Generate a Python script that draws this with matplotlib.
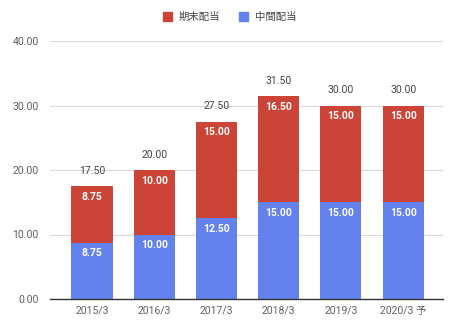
import matplotlib
matplotlib.use("Agg")
import matplotlib.pyplot as plt
from matplotlib.patches import Patch

plt.rcParams['font.family'] = ['Roboto', 'Noto Sans CJK JP', 'DejaVu Sans']

categories = ["2015/3", "2016/3", "2017/3", "2018/3", "2019/3", "2020/3 予"]
interim = [8.75, 10.00, 12.50, 15.00, 15.00, 15.00]   # 中間配当
year_end = [8.75, 10.00, 15.00, 16.50, 15.00, 15.00]  # 期末配当
totals = [17.50, 20.00, 27.50, 31.50, 30.00, 30.00]
yticks = [0, 10, 20, 30, 40]

RED = '#cc4437'
BLUE = '#6382ee'

fig = plt.figure(figsize=(4.59, 3.31), dpi=100)
ax = fig.add_axes([50/459, 1-299/331, (443-50)/459, (299-41)/331])

x = list(range(len(categories)))
w = 0.66
ax.bar(x, interim, width=w, color=BLUE, zorder=3)
ax.bar(x, year_end, width=w, bottom=interim, color=RED, zorder=3)

for i in x:
    ax.text(i, interim[i] - 0.9, f"{interim[i]:.2f}", ha='center', va='top',
            color='white', fontsize=7.5, fontweight='bold', zorder=4)
    ax.text(i, interim[i] + year_end[i] - 0.9, f"{year_end[i]:.2f}", ha='center', va='top',
            color='white', fontsize=7.5, fontweight='bold', zorder=4)
    ax.text(i, totals[i] + 1.6, f"{totals[i]:.2f}", ha='center', va='bottom',
            color='#444444', fontsize=7.5, zorder=4)

ax.set_xlim(-0.675, 5.64)
ax.set_ylim(0, 40)
ax.set_yticks(yticks)
ax.set_yticklabels([f"{v:.2f}" for v in yticks])
ax.set_xticks(x)
ax.set_xticklabels(categories)
ax.tick_params(axis='both', length=0, colors='#5f5f5f', labelsize=7.5)
ax.tick_params(axis='y', pad=8)
ax.tick_params(axis='x', pad=5)
ax.grid(axis='y', color='#d9d9d9', linewidth=0.8, zorder=0)
for s in ['top', 'right', 'left']:
    ax.spines[s].set_visible(False)
ax.spines['bottom'].set_color('#333333')
ax.spines['bottom'].set_linewidth(1.0)
ax.spines['bottom'].set_zorder(5)

handles = [Patch(color=RED, label='期末配当'), Patch(color=BLUE, label='中間配当')]
fig.legend(handles=handles, loc='center', bbox_to_anchor=(0.5, 1-17/331), ncol=2,
           frameon=False, fontsize=7.5, handlelength=0.9, handleheight=0.9,
           columnspacing=1.8, handletextpad=0.6, labelcolor='#444444')

fig.savefig('out.png', dpi=100)
